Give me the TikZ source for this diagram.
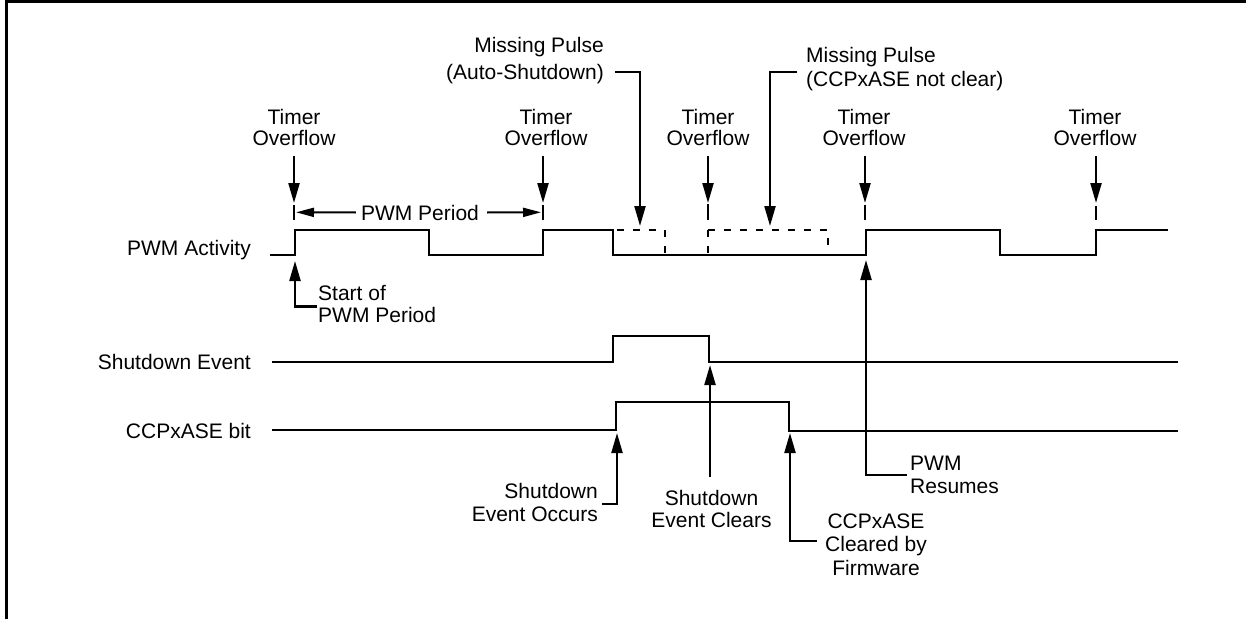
\documentclass[tikz,border=0pt]{standalone}
\usepackage{fontspec}
\setmainfont{Liberation Sans}
\usetikzlibrary{arrows.meta}
\begin{document}
\begin{tikzpicture}[x=1pt,y=-1pt,
  wave/.style={line width=2.4pt, line join=miter, line cap=butt},
  dsh/.style={line width=2.2pt, dash pattern=on 7pt off 9pt, dash phase=12pt},
  arr/.style={line width=2.2pt, -{Triangle[length=20pt,width=11pt]}},
  harr/.style={line width=2pt, -{Triangle[length=18pt,width=9pt]}},
  lbl/.style={inner sep=0pt, font=\fontsize{21}{25}\selectfont}]
\useasboundingbox (0,0) rectangle (1246,619);
% frame
\draw[line width=3.3pt] (6.7,619) -- (6.7,1.7) -- (1246,1.7);

% signal names
\node[lbl,anchor=base east] (pwmlbl) at (251,255.5) {PWM Activity};
\node[lbl,anchor=base east] (sdlbl) at (251,369.5) {Shutdown Event};
\node[lbl,anchor=base east] (aselbl) at (251,438.5) {CCPxASE bit};

% waveforms
\draw[wave] (270,255) -- (295,255) -- (295,230) -- (429,230) -- (429,255) -- (543,255) -- (543,230) -- (613,230) -- (613,255) -- (866,255) -- (866,230) -- (1000,230) -- (1000,255) -- (1096,255) -- (1096,230) -- (1168,230);
\draw[dsh] (613,230) -- (665,230) -- (665,255);
\draw[dsh, dash phase=0pt] (708,230) -- (708,255);
\draw[dsh, dash phase=0pt] (708,230) -- (828,230) -- (828,255);
\draw[wave] (272,362) -- (613,362) -- (613,336) -- (709,336) -- (709,362) -- (1178,362);
\draw[wave] (272,430) -- (616,430) -- (616,402) -- (789,402) -- (789,431) -- (1178,431);

% ticks
\draw[wave] (294,205) -- (294,220);
\draw[wave] (543,205) -- (543,220);
\draw[wave] (708,204) -- (708,220);
\draw[wave] (865,205) -- (865,220);
\draw[wave] (1096,206) -- (1096,220);

% timer overflow labels and arrows
\foreach \i/\tx/\ax in {1/294/294, 2/546/543, 3/708/708, 4/864/865, 5/1095/1096}{
  \node[lbl,anchor=base] (toa\i) at (\tx,124) {Timer};
  \node[lbl,anchor=base] (tob\i) at (\tx,145) {Overflow};
  \coordinate (tos\i) at (\ax,156);
  \coordinate (tot\i) at (\ax,203);
  \draw[arr] (tos\i) -- (tot\i);
}

% PWM period
\node[lbl,anchor=base] (pp) at (420,220) {PWM Period};
\coordinate (ppl) at (296,212.3);
\coordinate (ppr) at (541,212.3);
\draw[harr] ([xshift=-5pt]pp.west) -- (ppl);
\draw[harr] ([xshift=8pt]pp.east) -- (ppr);

% Missing pulse (auto-shutdown)
\node[lbl,anchor=base east] (mp1a) at (604,52) {Missing Pulse};
\node[lbl,anchor=base east] (mp1b) at (604,79) {(Auto-Shutdown)};
\coordinate (mp1s) at (615,71.7);
\coordinate (mp1t) at (640,226);
\draw[arr] (mp1s) -| (mp1t);

% Missing pulse (CCPxASE not clear)
\node[lbl,anchor=base west] (mp2a) at (806,62.5) {Missing Pulse};
\node[lbl,anchor=base west] (mp2b) at (806,86.5) {(CCPxASE not clear)};
\coordinate (mp2s) at (797,71.7);
\coordinate (mp2t) at (770,226);
\draw[arr] (mp2s) -| (mp2t);

% Start of PWM period
\node[lbl,anchor=base west] (sa) at (318,300) {Start of};
\node[lbl,anchor=base west] (sb) at (318,322) {PWM Period};
\coordinate (ss) at (317,306.5);
\coordinate (st) at (295,261);
\draw[arr] (ss) -| (st);

% PWM resumes
\node[lbl,anchor=base west] (ra) at (910,470) {PWM};
\node[lbl,anchor=base west] (rb) at (910,493) {Resumes};
\coordinate (rs) at (907,475);
\coordinate (rt) at (866,260);
\draw[arr] (rs) -| (rt);

% Shutdown event occurs
\node[lbl,anchor=base east] (oa) at (598,498) {Shutdown};
\node[lbl,anchor=base east] (ob) at (598,521.5) {Event Occurs};
\coordinate (os) at (602,504);
\coordinate (ot) at (617,433);
\draw[arr] (os) -| (ot);

% Shutdown event clears
\node[lbl,anchor=base] (ca) at (711.5,505) {Shutdown};
\node[lbl,anchor=base] (cb) at (711.5,527) {Event Clears};
\coordinate (cs) at (710,477);
\coordinate (ct) at (710,365);
\draw[arr] (cs) -- (ct);

% CCPxASE cleared by firmware
\node[lbl,anchor=base] (fa) at (876,528) {CCPxASE};
\node[lbl,anchor=base] (fb) at (876,551.5) {Cleared by};
\node[lbl,anchor=base] (fc) at (876,575) {Firmware};
\coordinate (fs) at (817,541);
\coordinate (ft) at (790,433);
\draw[arr] (fs) -| (ft);
\end{tikzpicture}
\end{document}
